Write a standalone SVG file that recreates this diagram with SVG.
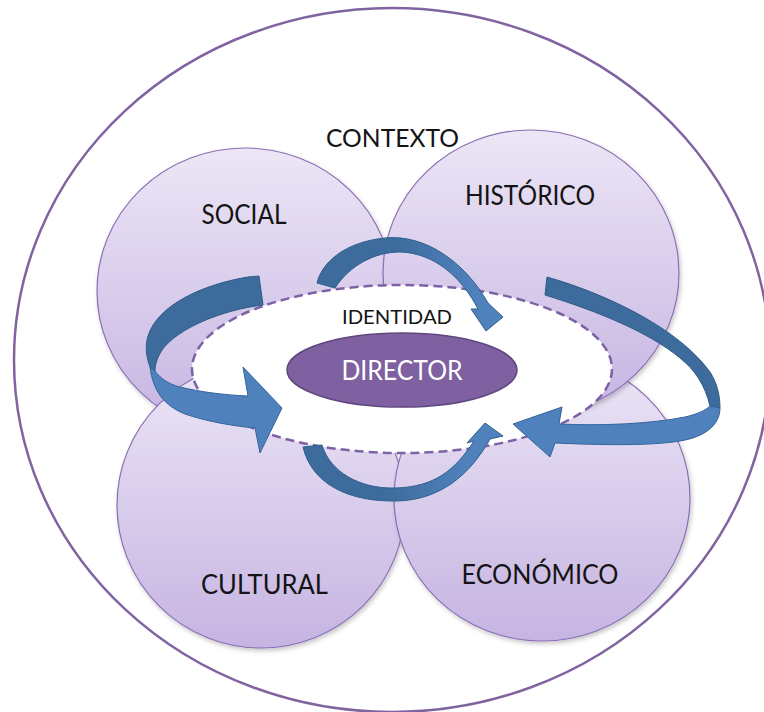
<svg xmlns="http://www.w3.org/2000/svg" width="764" height="712" viewBox="0 0 764 712">
  <defs>
    <linearGradient id="lilac" x1="0" y1="0" x2="0" y2="1">
      <stop offset="0" stop-color="#ECE6F6"/>
      <stop offset="1" stop-color="#C6B4E2"/>
    </linearGradient>
    <linearGradient id="topBand" gradientUnits="userSpaceOnUse" x1="395" y1="0" x2="475" y2="0">
      <stop offset="0" stop-color="#3D6B9C"/>
      <stop offset="1" stop-color="#4F81BD"/>
    </linearGradient>
    <linearGradient id="bottomBand" gradientUnits="userSpaceOnUse" x1="385" y1="0" x2="465" y2="0">
      <stop offset="0" stop-color="#3D6B9C"/>
      <stop offset="1" stop-color="#4F81BD"/>
    </linearGradient>
    <filter id="soft" x="-10%" y="-10%" width="125%" height="125%">
      <feDropShadow dx="1.5" dy="2.5" stdDeviation="2" flood-color="#000" flood-opacity="0.22"/>
    </filter>
  </defs>
  <style>
    .sphere { fill: url(#lilac); stroke: #8A6EB6; stroke-width: 1.2; filter: url(#soft); }
    .label { font-family: Lato, "Open Sans", "Liberation Sans", sans-serif; fill: #141414; text-anchor: middle; }
    .band-dark { fill: #3D6B9C; stroke: #2F5A88; stroke-width: 1; stroke-linejoin: round; }
    .band-light { fill: #4F81BD; stroke: #35659A; stroke-width: 1; stroke-linejoin: round; }
    .band { stroke: #30608F; stroke-width: 1; stroke-linejoin: round; }
  </style>

  <rect width="764" height="712" fill="#FFFFFF"/>

  <!-- outer context ring -->
  <g id="contexto">
    <ellipse cx="392" cy="360" rx="378" ry="352" fill="none" stroke="#8064A2" stroke-width="2.5"/>
    <text class="label" x="392.5" y="146.5" font-size="25" textLength="133" lengthAdjust="spacingAndGlyphs">CONTEXTO</text>
  </g>

  <!-- four overlapping spheres, back to front -->
  <g id="social">
    <ellipse class="sphere" cx="245" cy="291" rx="148" ry="143"/>
    <text class="label" x="244" y="224" font-size="26" textLength="85" lengthAdjust="spacingAndGlyphs">SOCIAL</text>
  </g>
  <g id="cultural">
    <ellipse class="sphere" cx="261" cy="505" rx="144" ry="143"/>
    <text class="label" x="264.5" y="594" font-size="26" textLength="127" lengthAdjust="spacingAndGlyphs">CULTURAL</text>
  </g>
  <g id="economico">
    <ellipse class="sphere" cx="542" cy="498" rx="148" ry="143"/>
    <text class="label" x="540" y="584" font-size="26" textLength="157" lengthAdjust="spacingAndGlyphs">ECONÓMICO</text>
  </g>
  <g id="historico">
    <ellipse class="sphere" cx="531" cy="273" rx="148" ry="143"/>
    <text class="label" x="530" y="205" font-size="26" textLength="130" lengthAdjust="spacingAndGlyphs">HISTÓRICO</text>
  </g>

  <!-- identity field -->
  <g id="identidad">
    <ellipse cx="402" cy="369" rx="210" ry="84" fill="#FFFFFF" stroke="#7E62A6" stroke-width="2.5" stroke-dasharray="9 5"/>
    <text class="label" x="397" y="324" font-size="18.5" textLength="110" lengthAdjust="spacingAndGlyphs">IDENTIDAD</text>
  </g>

  <!-- core -->
  <g id="director">
    <ellipse cx="402" cy="370" rx="115" ry="37" fill="#7F60A0" stroke="#5F4780" stroke-width="1.5"/>
    <text class="label" x="402" y="380" font-size="27" textLength="121" lengthAdjust="spacingAndGlyphs" style="fill:#FFFFFF">DIRECTOR</text>
  </g>

  <!-- circular arrows -->
  <g id="connectors">
    <!-- left: from Social sweeping round into the field -->
    <path class="band-dark" d="M248,277 L259,276 L263,305 C222,310 178,328 162,350 C157,358 155,365 155,371 L150,367 C146,356 145,346 148,336 C158,304 205,284 248,277 Z"/>
    <path class="band-light" d="M150,367 L155,371 C160,378 168,384 180,387 C200,392 225,395 248,396 L243,367 L282,408 L260,453 L255,428 C232,426 205,421 185,414 C165,406 153,392 150,367 Z"/>

    <!-- top: arc from Social over to Histórico -->
    <path class="band" fill="url(#topBand)" d="M317,283 C322,262 345,242 385,238 C425,234 465,262 488,303 L503,317 L486,331 L471,309 L478,309 C462,278 435,253 400,252 C375,252 350,265 335,288 Z"/>

    <!-- right: from Histórico sweeping round into the field -->
    <path class="band-dark" d="M547,277 C610,295 680,330 710,372 C717,383 720,395 720,408 L710,406 C705,385 695,370 680,358 C650,333 600,312 545,295 Z"/>
    <path class="band-light" d="M720,408 C720,425 705,437 680,441 C650,446 600,445 555,443 L550,457 L513,424 L562,407 L559,424 C600,426 650,424 685,417 C698,414 706,410 710,406 Z"/>

    <!-- bottom: arc from Cultural under to Económico -->
    <path class="band" fill="url(#bottomBand)" d="M303,447 C312,485 350,502 397,501 C440,500 470,475 490,439 L503,436 L485,423 L467,443 L474,441 C455,470 435,487 395,488 C360,489 330,472 322,445 Z"/>
  </g>
</svg>
